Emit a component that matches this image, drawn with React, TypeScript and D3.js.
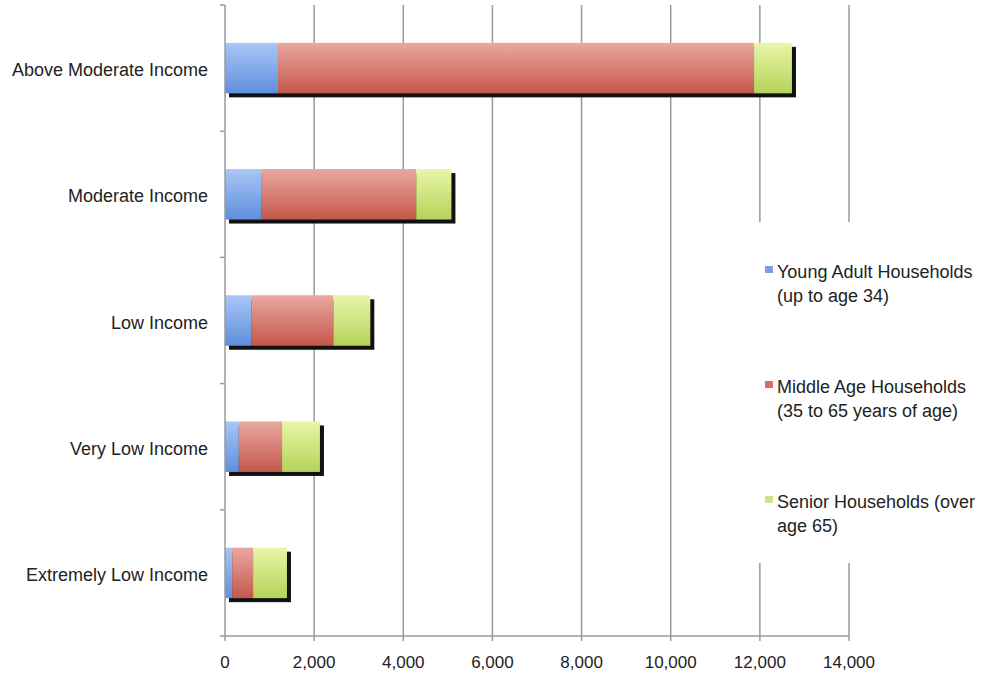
import React, { useEffect, useRef } from 'react'
import * as d3 from 'd3'

// categories, listed top to bottom
const categories = [
  'Above Moderate Income',
  'Moderate Income',
  'Low Income',
  'Very Low Income',
  'Extremely Low Income',
]

const youngAdult = [1190, 810, 600, 310, 160]
const middleAge = [10680, 3480, 1830, 970, 470]
const senior = [850, 790, 830, 850, 760]

const seriesNames = ['young', 'middle', 'senior']
const legendLabels = [
  ['Young Adult Households', '(up to age 34)'],
  ['Middle Age Households', '(35 to 65 years of age)'],
  ['Senior Households (over', 'age 65)'],
]
const xTicks = [0, 2000, 4000, 6000, 8000, 10000, 12000, 14000]

// gradient stops: top colour, bottom colour
const colors = [
  ['#a9c6f6', '#5f8fdc'],
  ['#e9a8a0', '#c5574b'],
  ['#e9f6a8', '#b5d25a'],
]
const legendColors = ['#7d9fdc', '#d56f69', '#cfe48a']

const width = 983
const height = 681
const font = '"Liberation Sans", Arial, Helvetica, sans-serif'

interface Row {
  name: string
  young: number
  middle: number
  senior: number
}

const rows: Row[] = categories.map((name, i) => ({
  name,
  young: youngAdult[i],
  middle: middleAge[i],
  senior: senior[i],
}))

export default function App() {
  const ref = useRef<SVGSVGElement | null>(null)

  useEffect(() => {
    if (!ref.current) return
    const svg = d3.select(ref.current)
    svg.selectAll('*').remove()

    const x = d3.scaleLinear().domain([0, 14000]).range([225, 849])
    const y = d3
      .scaleBand<string>()
      .domain(categories)
      .range([5, 636])
      .paddingInner(0.6)
      .paddingOuter(0.3)

    const defs = svg.append('defs')
    colors.forEach((c, i) => {
      const g = defs
        .append('linearGradient')
        .attr('id', `grad${i}`)
        .attr('x1', 0)
        .attr('y1', 0)
        .attr('x2', 0)
        .attr('y2', 1)
      g.append('stop').attr('offset', '0%').attr('stop-color', c[0])
      g.append('stop').attr('offset', '100%').attr('stop-color', c[1])
    })

    svg.append('rect').attr('width', width).attr('height', height).attr('fill', '#fff')

    const gridColor = '#9a9a9a'

    // vertical gridlines
    svg
      .append('g')
      .selectAll('line')
      .data(xTicks.slice(1))
      .join('line')
      .attr('x1', (d) => x(d))
      .attr('x2', (d) => x(d))
      .attr('y1', 5)
      .attr('y2', 636)
      .attr('stroke', gridColor)
      .attr('stroke-width', 1.5)

    // legend background hides the gridlines behind it
    svg
      .append('rect')
      .attr('x', 745)
      .attr('y', 222)
      .attr('width', 238)
      .attr('height', 341)
      .attr('fill', '#fff')

    // stacked bars
    const stack = d3.stack<Row>().keys(seriesNames)(rows)
    const bw = y.bandwidth()

    // drop shadow
    svg
      .append('g')
      .selectAll('rect')
      .data(rows)
      .join('rect')
      .attr('x', x(0) + 4)
      .attr('y', (d) => (y(d.name) ?? 0) + 4)
      .attr('width', (d) => x(d.young + d.middle + d.senior) - x(0))
      .attr('height', bw)
      .attr('fill', '#111')

    stack.forEach((layer, i) => {
      svg
        .append('g')
        .selectAll('rect')
        .data(layer)
        .join('rect')
        .attr('x', (d) => x(d[0]))
        .attr('y', (d) => y(d.data.name) ?? 0)
        .attr('width', (d) => x(d[1]) - x(d[0]))
        .attr('height', bw)
        .attr('fill', `url(#grad${i})`)
    })

    // left axis
    const left = svg.append('g').attr('stroke', gridColor).attr('stroke-width', 1.5)
    left.append('line').attr('x1', 225).attr('x2', 225).attr('y1', 5).attr('y2', 636)
    const step = y.step()
    left
      .selectAll('line.tick')
      .data(d3.range(categories.length))
      .join('line')
      .attr('class', 'tick')
      .attr('x1', 220)
      .attr('x2', 225)
      .attr('y1', (i) => 5 + i * step)
      .attr('y2', (i) => 5 + i * step)

    svg
      .append('g')
      .selectAll('text')
      .data(categories)
      .join('text')
      .attr('x', 208)
      .attr('y', (d) => (y(d) ?? 0) + bw / 2)
      .attr('dy', '0.45em')
      .attr('text-anchor', 'end')
      .attr('font-family', font)
      .attr('font-size', 18)
      .attr('fill', '#222')
      .text((d) => d)

    // bottom axis
    const bottom = svg.append('g').attr('stroke', gridColor).attr('stroke-width', 1.5)
    bottom.append('line').attr('x1', 220).attr('x2', 849).attr('y1', 636).attr('y2', 636)
    bottom
      .selectAll('line.tick')
      .data(xTicks)
      .join('line')
      .attr('class', 'tick')
      .attr('x1', (d) => x(d))
      .attr('x2', (d) => x(d))
      .attr('y1', 636)
      .attr('y2', 641)

    const fmt = d3.format(',')
    svg
      .append('g')
      .selectAll('text')
      .data(xTicks)
      .join('text')
      .attr('x', (d) => x(d))
      .attr('y', 668)
      .attr('text-anchor', 'middle')
      .attr('font-family', font)
      .attr('font-size', 17)
      .attr('fill', '#222')
      .text((d) => fmt(d))

    // legend
    const legend = svg
      .append('g')
      .selectAll('g')
      .data(legendLabels)
      .join('g')
      .attr('transform', (_d, i) => `translate(765,${266 + i * 115})`)

    legend
      .append('rect')
      .attr('width', 8)
      .attr('height', 7)
      .attr('fill', (_d, i) => legendColors[i])

    legend
      .append('text')
      .attr('font-family', font)
      .attr('font-size', 18)
      .attr('fill', '#222')
      .selectAll('tspan')
      .data((d) => d)
      .join('tspan')
      .attr('x', 12)
      .attr('y', (_d, i) => 12 + i * 24)
      .text((d) => d)
  }, [])

  return (
    <svg
      ref={ref}
      width={width}
      height={height}
      style={{ position: 'absolute', left: 0, top: 0, display: 'block' }}
    />
  )
}
